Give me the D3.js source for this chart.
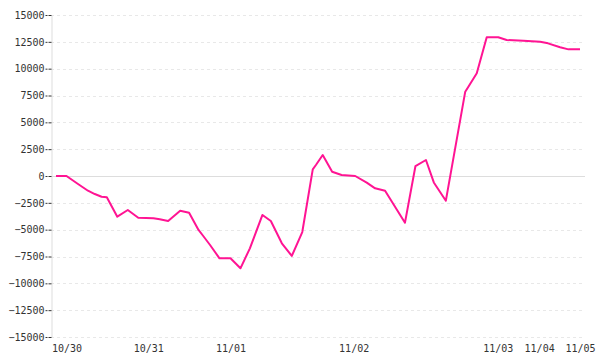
<!DOCTYPE html>
<html>
<head>
<meta charset="utf-8">
<script src="https://cdn.jsdelivr.net/npm/d3@7"></script>
<style>
  body { margin: 0; background: #fff; }
  text { font-family: "DejaVu Sans Mono", monospace; font-size: 10px; fill: #333; }
</style>
</head>
<body>
<svg id="viz" width="600" height="360"></svg>
<script>
// sample positions (index units along the compressed time axis) and values
var xs = [0, 2.0, 4.2, 6.1, 7.4, 8.7, 9.7, 11.7, 13.7, 15.7, 18.6, 19.8, 21.4, 23.7, 25.4,
          27.2, 28.1, 29.4, 31.2, 33.3, 35.2, 37.0, 39.4, 41.0, 43.1, 45.0, 47.0,
          49.0, 49.6, 50.9, 52.7, 54.5, 57.1, 59.3, 60.9, 62.8, 66.6, 68.6, 70.6, 72.1, 74.4,
          78.1, 78.7, 80.3, 82.2, 84.4, 86.0, 89.2, 92.4, 93.9, 96.2, 97.8, 100];
var values = [0, 0, -745, -1370, -1680, -1930, -1985, -3790, -3170, -3885, -3940, -4035, -4190, -3230, -3420,
              -5030, -5590, -6430, -7670, -7670, -8600, -6740, -3630, -4190, -6270, -7450, -5220,
              620, 1025, 1960, 400, 93, 0, -620, -1150, -1370, -4350, 930, 1490, -600, -2300,
              7855, 8320, 9570, 12920, 12920, 12670, 12610, 12510, 12360, 11990, 11800, 11800];
var dayLabels = ["10/30", "10/31", "11/01", "11/02", "11/03", "11/04", "11/05"];
var dayPos = [2.0, 17.6, 33.3, 56.8, 84.3, 92.2, 100];
var yTicks = [-15000, -12500, -10000, -7500, -5000, -2500, 0, 2500, 5000, 7500, 10000, 12500, 15000];

var svg = d3.select("#viz");
var m = { left: 51, right: 585, top: 15, bottom: 337 };

var x = d3.scaleLinear().domain([0, 100]).range([m.left + 5, m.right - 5]);
var y = d3.scaleLinear().domain([-15000, 15000]).range([m.bottom, m.top]);

// grid
svg.append("g").selectAll("line")
    .data(yTicks)
    .enter().append("line")
      .attr("x1", m.left).attr("x2", m.right)
      .attr("y1", function(d) { return Math.round(y(d)) + 0.5; })
      .attr("y2", function(d) { return Math.round(y(d)) + 0.5; })
      .attr("stroke", function(d) { return d == 0 ? "#dddddd" : "#e8e8e8"; })
      .attr("stroke-dasharray", function(d) { return d == 0 ? null : "3,3"; });

// y axis
var yAxis = svg.append("g")
    .attr("transform", "translate(" + (m.left + 0.5) + ",0)")
    .call(d3.axisLeft(y).tickValues(yTicks).tickSize(6).tickSizeOuter(0).tickPadding(1).tickFormat(d3.format("d")));
yAxis.attr("font-family", null).attr("font-size", null);
yAxis.select(".domain").attr("stroke", "#dddddd");
yAxis.selectAll(".tick line").attr("stroke", "#333").attr("stroke-dasharray", "3,1");
yAxis.selectAll("text").attr("fill", "#333");

// x axis labels
var xAxis = svg.append("g")
    .attr("transform", "translate(0," + m.bottom + ")")
    .call(d3.axisBottom(x).tickValues(dayPos).tickSize(0).tickPadding(8)
      .tickFormat(function(d, i) { return dayLabels[i]; }));
xAxis.attr("font-family", null).attr("font-size", null);
xAxis.select(".domain").remove();
xAxis.selectAll("text").attr("fill", "#333");

// line
var line = d3.line()
    .x(function(d) { return x(d[0]); })
    .y(function(d) { return y(d[1]); });

svg.append("path")
    .datum(d3.zip(xs, values))
    .attr("d", line)
    .attr("fill", "none")
    .attr("stroke", "#ff1493")
    .attr("stroke-width", 2)
    .attr("stroke-linejoin", "round");
</script>
</body>
</html>
